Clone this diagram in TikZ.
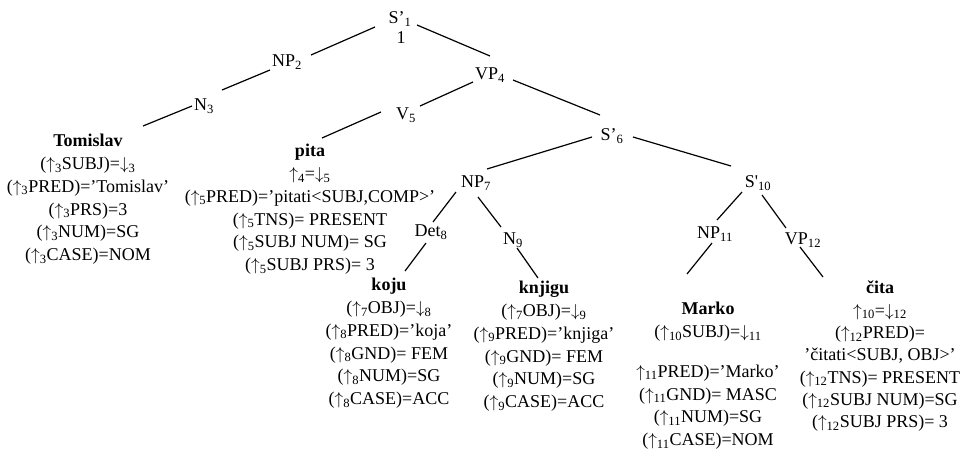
\documentclass[tikz,border=0pt]{standalone}
\usepackage{fontspec}
\setmainfont{Liberation Serif}
\newcommand\sbx[1]{\textsubscript{#1}}
\newcommand\upa{$\uparrow$}
\newcommand\dna{$\downarrow$}
\begin{document}
\begin{tikzpicture}[x=1pt,y=-1pt,
  lab/.style={inner sep=0pt,font=\fontsize{18}{22}\selectfont},
  block/.style={align=center,anchor=north,inner sep=0pt,font=\fontsize{18}{22.8}\selectfont},
  edge/.style={line width=1.2pt}]
\useasboundingbox[fill=white] (0,0) rectangle (964,453);
% tree labels
\node[lab] (s1) at (400,19) {S’\sbx{1}};
\node[lab] (one) at (401,38) {1};
\node[lab] (np2) at (287,62) {NP\sbx{2}};
\node[lab] (n3) at (204,106) {N\sbx{3}};
\node[lab] (vp4) at (490,75) {VP\sbx{4}};
\node[lab] (v5) at (406,115) {V\sbx{5}};
\node[lab] (s6) at (612,136) {S’\sbx{6}};
\node[lab] (np7) at (476,183) {NP\sbx{7}};
\node[lab] (det8) at (431,232) {Det\sbx{8}};
\node[lab] (n9) at (513,240) {N\sbx{9}};
\node[lab] (s10) at (758,183) {S\textquotesingle\sbx{10}};
\node[lab] (np11) at (715,234) {NP\sbx{11}};
\node[lab] (vp12) at (803,240) {VP\sbx{12}};
% leaf blocks
\node[block] (tom) at (88,134) {\textbf{Tomislav}\\(\upa\sbx{3}SUBJ)=\dna\sbx{3}\\(\upa\sbx{3}PRED)=’Tomislav’\\(\upa\sbx{3}PRS)=3\\(\upa\sbx{3}NUM)=SG\\(\upa\sbx{3}CASE)=NOM};
\node[block] (pita) at (310,144) {\textbf{pita}\\\upa\sbx{4}=\dna\sbx{5}\\(\upa\sbx{5}PRED)=’pitati<SUBJ,COMP>’\\(\upa\sbx{5}TNS)= PRESENT\\(\upa\sbx{5}SUBJ NUM)= SG\\(\upa\sbx{5}SUBJ PRS)= 3};
\node[block] (koju) at (389,278) {\textbf{koju}\\(\upa\sbx{7}OBJ)=\dna\sbx{8}\\(\upa\sbx{8}PRED)=’koja’\\(\upa\sbx{8}GND)= FEM\\(\upa\sbx{8}NUM)=SG\\(\upa\sbx{8}CASE)=ACC};
\node[block] (knjigu) at (544,281) {\textbf{knjigu}\\(\upa\sbx{7}OBJ)=\dna\sbx{9}\\(\upa\sbx{9}PRED)=’knjiga’\\(\upa\sbx{9}GND)= FEM\\(\upa\sbx{9}NUM)=SG\\(\upa\sbx{9}CASE)=ACC};
\node[block] (marko) at (708,302) {\textbf{Marko}\\(\upa\sbx{10}SUBJ)=\dna\sbx{11}\\[17pt]\upa\sbx{11}PRED)=’Marko’\\(\upa\sbx{11}GND)= MASC\\(\upa\sbx{11}NUM)=SG\\(\upa\sbx{11}CASE)=NOM};
\node[block,font=\fontsize{18}{22.3}\selectfont] (cita) at (880,281) {\textbf{čita}\\\upa\sbx{10}=\dna\sbx{12}\\(\upa\sbx{12}PRED)=\\’čitati<SUBJ, OBJ>’\\(\upa\sbx{12}TNS)= PRESENT\\(\upa\sbx{12}SUBJ NUM)=SG\\(\upa\sbx{12}SUBJ PRS)= 3};
% connectors
\draw[edge] ([shift={(-25,8)}]s1.center) -- ([shift={(24,-7)}]np2.center);
\draw[edge] ([shift={(17,6)}]s1.center) -- ([shift={(0,-19)}]vp4.center);
\draw[edge] ([shift={(-17,8)}]np2.center) -- ([shift={(18,-16)}]n3.center);
\draw[edge] ([shift={(-12,0)}]n3.center) -- ([shift={(55,-8)}]tom.north);
\draw[edge] ([shift={(-17,7)}]vp4.center) -- ([shift={(14,-9)}]v5.center);
\draw[edge] ([shift={(-25,-3)}]v5.center) -- ([shift={(12,-6)}]pita.north);
\draw[edge] ([shift={(23,5)}]vp4.center) -- ([shift={(-12,-21)}]s6.center);
\draw[edge] ([shift={(-20,1)}]s6.center) -- ([shift={(11,-14)}]np7.center);
\draw[edge] ([shift={(21,1)}]s6.center) -- ([shift={(-27,-17)}]s10.center);
\draw[edge] ([shift={(-20,9)}]np7.center) -- ([shift={(2,-10)}]det8.center);
\draw[edge] ([shift={(2,14)}]np7.center) -- ([shift={(-12,-13)}]n9.center);
\draw[edge] ([shift={(-5,11)}]det8.center) -- ([shift={(16,-7)}]koju.north);
\draw[edge] ([shift={(4,8)}]n9.center) -- ([shift={(-6,-3)}]knjigu.north);
\draw[edge] ([shift={(-16,9)}]s10.center) -- ([shift={(2,-14)}]np11.center);
\draw[edge] ([shift={(4,12)}]s10.center) -- ([shift={(-17,-12)}]vp12.center);
\draw[edge] ([shift={(-3,9)}]np11.center) -- ([shift={(-21,-28)}]marko.north);
\draw[edge] ([shift={(-3,7)}]vp12.center) -- ([shift={(-57,-4)}]cita.north);
\end{tikzpicture}
\end{document}
